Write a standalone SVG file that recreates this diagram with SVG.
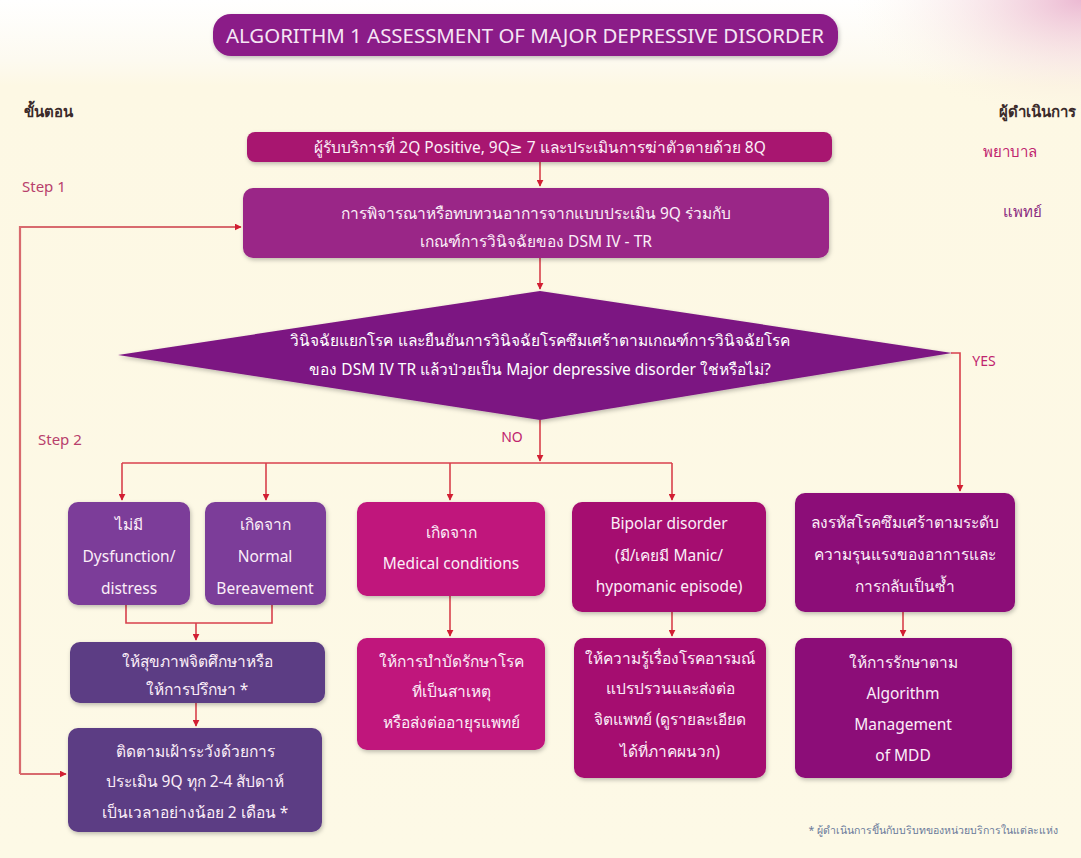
<svg xmlns="http://www.w3.org/2000/svg" width="1081" height="858" viewBox="0 0 1081 858">
<defs>
<linearGradient id="bg" x1="0" y1="0" x2="0" y2="1">
<stop offset="0" stop-color="#ffffff"/>
<stop offset="0.07" stop-color="#fdfaf0"/>
<stop offset="0.1" stop-color="#fdf8e4"/>
<stop offset="1" stop-color="#fdf9e6"/>
</linearGradient>
<radialGradient id="pinkcorner" cx="1" cy="0" r="0.6">
<stop offset="0" stop-color="#e7a8c8" stop-opacity="0.8"/>
<stop offset="1" stop-color="#fdf8e4" stop-opacity="0"/>
</radialGradient>
<filter id="sh" x="-10%" y="-10%" width="120%" height="130%">
<feDropShadow dx="1" dy="2" stdDeviation="2" flood-color="#000" flood-opacity="0.25"/>
</filter>
<marker id="ah" viewBox="0 0 10 10" refX="9" refY="5" markerWidth="7" markerHeight="7" orient="auto" markerUnits="userSpaceOnUse">
<path d="M0,0 L10,5 L0,10 z" fill="#d21f33"/>
</marker>
</defs>
<style>
text{font-family:"Noto Sans","DejaVu Sans",sans-serif;}
.bt{fill:#fbeef8;font-size:15.5px;text-anchor:middle;}
.dt{fill:#ffffff;font-size:15.5px;text-anchor:middle;}
.lbl{font-size:15px;}
.conn path{fill:none;stroke:#d8404c;stroke-width:1.6;}
.loop{stroke:#d86a6e !important;stroke-width:2.2 !important;}
</style>
<rect x="0" y="0" width="1081" height="858" fill="url(#bg)"/>
<rect x="700" y="0" width="381" height="200" fill="url(#pinkcorner)"/>

<g id="title">
<rect x="213" y="14" width="625" height="42" rx="18" fill="#8b1a88" filter="url(#sh)"/>
<text x="525" y="43" font-size="19" fill="#f6e6f4" text-anchor="middle" textLength="598" lengthAdjust="spacingAndGlyphs">ALGORITHM 1 ASSESSMENT OF MAJOR DEPRESSIVE DISORDER</text>
</g>

<g id="headers">
<text x="24" y="117" class="lbl" fill="#3a2a2a" font-weight="bold">ขั้นตอน</text>
<text x="1076" y="117" class="lbl" fill="#3a2a2a" font-weight="bold" text-anchor="end">ผู้ดำเนินการ</text>
<text x="1010" y="157" class="lbl" fill="#c0246e" text-anchor="middle">พยาบาล</text>
<text x="1022" y="217" class="lbl" fill="#8a2a80" text-anchor="middle">แพทย์</text>
<text x="22" y="192" font-size="15" fill="#b8406c">Step 1</text>
<text x="38" y="445" font-size="15" fill="#b8406c">Step 2</text>
<text x="512" y="442" font-size="14" fill="#c0246e" text-anchor="middle">NO</text>
<text x="984" y="366" font-size="14" fill="#c0246e" text-anchor="middle">YES</text>
</g>

<g class="conn" id="connectors">
<path d="M540 162 V186" marker-end="url(#ah)"/>
<path d="M540 258 V289" marker-end="url(#ah)"/>
<path d="M540 420 V461" marker-end="url(#ah)"/>
<path d="M122 463 H672"/>
<path d="M122 463 V500" marker-end="url(#ah)"/>
<path d="M266 463 V500" marker-end="url(#ah)"/>
<path d="M450 463 V500" marker-end="url(#ah)"/>
<path d="M672 463 V500" marker-end="url(#ah)"/>
<path d="M951 353 H960 V491" marker-end="url(#ah)"/>
<path d="M126 605 V623 H272 V605"/>
<path d="M196 623 V640" marker-end="url(#ah)"/>
<path d="M196 703 V726" marker-end="url(#ah)"/>
<path d="M450 596 V636" marker-end="url(#ah)"/>
<path d="M672 612 V636" marker-end="url(#ah)"/>
<path d="M903 612 V636" marker-end="url(#ah)"/>
<path class="loop" d="M20 774 V227 H241" marker-end="url(#ah)"/>
<path class="loop" d="M20 774 H66" marker-end="url(#ah)"/>
</g>

<g id="n_start">
<rect x="247" y="132" width="585" height="30" rx="8" fill="#a8176f" filter="url(#sh)"/>
<text x="540" y="153" class="bt">ผู้รับบริการที่ 2Q Positive, 9Q≥ 7 และประเมินการฆ่าตัวตายด้วย 8Q</text>
</g>

<g id="n_review">
<rect x="243" y="188" width="586" height="70" rx="10" fill="#9a2887" filter="url(#sh)"/>
<text x="536" y="219" class="bt">การพิจารณาหรือทบทวนอาการจากแบบประเมิน 9Q ร่วมกับ</text>
<text x="536" y="247" class="bt">เกณฑ์การวินิจฉัยของ DSM IV - TR</text>
</g>

<g id="n_decision">
<polygon points="118,355 540,291 952,353 540,420" fill="#7c1682" filter="url(#sh)"/>
<text x="540" y="346" class="dt">วินิจฉัยแยกโรค และยืนยันการวินิจฉัยโรคซึมเศร้าตามเกณฑ์การวินิจฉัยโรค</text>
<text x="540" y="375" class="dt">ของ DSM IV TR แล้วป่วยเป็น Major depressive disorder ใช่หรือไม่?</text>
</g>

<g id="n_nodys">
<rect x="68" y="502" width="122" height="103" rx="10" fill="#7c3e99" filter="url(#sh)"/>
<text x="129" y="530" class="bt">ไม่มี</text>
<text x="129" y="562" class="bt">Dysfunction/</text>
<text x="129" y="594" class="bt">distress</text>
</g>

<g id="n_bereave">
<rect x="205" y="502" width="121" height="103" rx="10" fill="#7c3e99" filter="url(#sh)"/>
<text x="265" y="530" class="bt">เกิดจาก</text>
<text x="265" y="562" class="bt">Normal</text>
<text x="265" y="594" class="bt">Bereavement</text>
</g>

<g id="n_medical">
<rect x="357" y="502" width="188" height="94" rx="10" fill="#c0137b" filter="url(#sh)"/>
<text x="451" y="538" class="bt">เกิดจาก</text>
<text x="451" y="569" class="bt">Medical conditions</text>
</g>

<g id="n_bipolar">
<rect x="572" y="502" width="194" height="110" rx="10" fill="#a5106f" filter="url(#sh)"/>
<text x="669" y="529" class="bt">Bipolar disorder</text>
<text x="669" y="561" class="bt">(มี/เคยมี Manic/</text>
<text x="669" y="592" class="bt">hypomanic episode)</text>
</g>

<g id="n_code">
<rect x="795" y="493" width="220" height="119" rx="10" fill="#8c1078" filter="url(#sh)"/>
<text x="905" y="528" class="bt">ลงรหัสโรคซึมเศร้าตามระดับ</text>
<text x="905" y="560" class="bt">ความรุนแรงของอาการและ</text>
<text x="905" y="592" class="bt">การกลับเป็นซ้ำ</text>
</g>

<g id="n_psyedu">
<rect x="70" y="642" width="255" height="61" rx="10" fill="#5c3c84" filter="url(#sh)"/>
<text x="197" y="667" class="bt">ให้สุขภาพจิตศึกษาหรือ</text>
<text x="197" y="695" class="bt">ให้การปรึกษา *</text>
</g>

<g id="n_follow">
<rect x="68" y="728" width="254" height="104" rx="10" fill="#5c3c84" filter="url(#sh)"/>
<text x="195" y="757" class="bt">ติดตามเฝ้าระวังด้วยการ</text>
<text x="195" y="787" class="bt">ประเมิน 9Q ทุก 2-4 สัปดาห์</text>
<text x="195" y="818" class="bt">เป็นเวลาอย่างน้อย 2 เดือน *</text>
</g>

<g id="n_treatcause">
<rect x="357" y="638" width="188" height="112" rx="10" fill="#c0137b" filter="url(#sh)"/>
<text x="451" y="667" class="bt">ให้การบำบัดรักษาโรค</text>
<text x="451" y="697" class="bt">ที่เป็นสาเหตุ</text>
<text x="451" y="728" class="bt">หรือส่งต่ออายุรแพทย์</text>
</g>

<g id="n_refer">
<rect x="574" y="638" width="192" height="140" rx="10" fill="#a5106f" filter="url(#sh)"/>
<text x="670" y="664" class="bt">ให้ความรู้เรื่องโรคอารมณ์</text>
<text x="670" y="694" class="bt">แปรปรวนและส่งต่อ</text>
<text x="670" y="725" class="bt">จิตแพทย์ (ดูรายละเอียด</text>
<text x="670" y="757" class="bt">ได้ที่ภาคผนวก)</text>
</g>

<g id="n_mdd">
<rect x="795" y="638" width="217" height="140" rx="10" fill="#8c1078" filter="url(#sh)"/>
<text x="903" y="668" class="bt">ให้การรักษาตาม</text>
<text x="903" y="699" class="bt">Algorithm</text>
<text x="903" y="730" class="bt">Management</text>
<text x="903" y="761" class="bt">of MDD</text>
</g>

<g id="footnote">
<text x="1058" y="834" font-size="10.5" fill="#6a7a9a" text-anchor="end">* ผู้ดำเนินการขึ้นกับบริบทของหน่วยบริการในแต่ละแห่ง</text>
</g>
</svg>
